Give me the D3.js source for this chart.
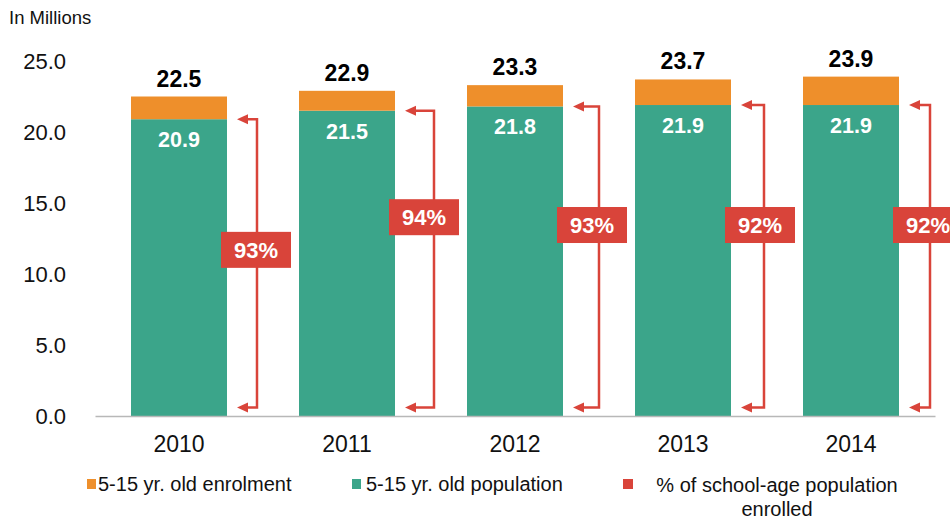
<!DOCTYPE html>
<html>
<head>
<meta charset="utf-8">
<script src="https://cdn.jsdelivr.net/npm/d3@7"></script>
<style>
  html, body { margin: 0; padding: 0; background: #fff; }
  svg { display: block; font-family: "Liberation Sans", Arial, sans-serif; }
</style>
</head>
<body>
<svg id="chart" width="950" height="519"></svg>
<script>
// ---- data ----
const years = ["2010", "2011", "2012", "2013", "2014"];
const greenValues = [20.9, 21.5, 21.8, 21.9, 21.9];   // lower (green) segment
const totalValues = [22.5, 22.9, 23.3, 23.7, 23.9];   // bar total (orange top)
const pctLabels = ["93%", "94%", "93%", "92%", "92%"];
const pctLabelAt = [11.7, 14.0, 13.45, 13.45, 13.45]; // value height of % box
const yTicks = [0, 5, 10, 15, 20, 25];
const legendLabels = ["5-15 yr. old enrolment", "5-15 yr. old population"];
const legendLabel3 = ["% of school-age population", "enrolled"];

// ---- layout / style ----
const ORANGE = "#EE8F2B", GREEN = "#3BA58A", RED = "#D9443A";
const arrowOffset = [30, 39, 36, 33, 31];
const FONT = "Liberation Sans, Arial, sans-serif";

const svg = d3.select("#chart");
const x = d3.scaleBand().domain(years).range([95, 935]).paddingInner(0.4286).paddingOuter(0.2143);
const y = d3.scaleLinear().domain([0, 25]).range([416, 61]);

// y axis
const yAxis = svg.append("g").attr("transform", "translate(72,0)")
  .call(d3.axisLeft(y).tickValues(yTicks).tickFormat(d3.format(".1f")).tickSize(0).tickPadding(6));
yAxis.select(".domain").remove();
yAxis.selectAll("text").attr("font-size", 22).attr("fill", "#111").style("font-family", FONT);

svg.append("text").attr("x", 9).attr("y", 24).attr("font-size", 18.5).attr("fill", "#111").text("In Millions");

// bars
const rows = years.map((yr, i) => ({ yr, g: greenValues[i], t: totalValues[i], pct: pctLabels[i], at: pctLabelAt[i], off: arrowOffset[i] }));

svg.selectAll("rect.green").data(rows).join("rect")
  .attr("x", d => x(d.yr)).attr("width", x.bandwidth())
  .attr("y", d => y(d.g)).attr("height", d => y(0) - y(d.g)).attr("fill", GREEN);
svg.selectAll("rect.orange").data(rows).join("rect")
  .attr("x", d => x(d.yr)).attr("width", x.bandwidth())
  .attr("y", d => y(d.t)).attr("height", d => y(d.g) - y(d.t)).attr("fill", ORANGE);

// x axis
const xAxis = svg.append("g").attr("transform", `translate(0,${y(0)})`)
  .call(d3.axisBottom(x).tickSize(0).tickSizeOuter(0).tickPadding(20));
xAxis.select(".domain").attr("stroke", "#b8b8b8").attr("stroke-width", 1.5);
xAxis.selectAll("text").attr("font-size", 23).attr("fill", "#111").style("font-family", FONT);

// value labels
svg.selectAll("text.total").data(rows).join("text")
  .attr("x", d => x(d.yr) + x.bandwidth() / 2).attr("y", d => y(d.t) - 10)
  .attr("text-anchor", "middle").attr("font-size", 23).attr("font-weight", "bold").attr("fill", "#000")
  .text(d => d.t.toFixed(1));
svg.selectAll("text.greenlbl").data(rows).join("text")
  .attr("x", d => x(d.yr) + x.bandwidth() / 2).attr("y", d => y(d.g) + 28)
  .attr("text-anchor", "middle").attr("font-size", 21.5).attr("font-weight", "bold").attr("fill", "#fff")
  .text(d => d.g.toFixed(1));

// arrows
const arrowG = svg.append("g");
rows.forEach(d => {
  const right = x(d.yr) + x.bandwidth();
  const lx = right + d.off;
  const tip = right + 10;
  const yt = y(d.g), yb = y(0.6);
  arrowG.append("path")
    .attr("d", `M${tip + 8},${yt}H${lx}V${yb}H${tip + 8}`)
    .attr("fill", "none").attr("stroke", RED).attr("stroke-width", 2.5);
  [yt, yb].forEach(yy => {
    arrowG.append("path")
      .attr("d", `M${tip},${yy}L${tip + 11},${yy - 5}L${tip + 11},${yy + 5}Z`)
      .attr("fill", RED);
  });
  const cx = right + 29, cy = y(d.at);
  arrowG.append("rect").attr("x", cx - 35).attr("y", cy - 18).attr("width", 70).attr("height", 36).attr("fill", RED);
  arrowG.append("text").attr("x", cx).attr("y", cy + 8).attr("text-anchor", "middle")
    .attr("font-size", 22).attr("font-weight", "bold").attr("fill", "#fff").text(d.pct);
});

// legend
const lg = svg.append("g");
const legendItems = [
  { color: ORANGE, sx: 87, tx: 98, label: legendLabels[0] },
  { color: GREEN, sx: 352, tx: 366, label: legendLabels[1] }
];
legendItems.forEach(it => {
  lg.append("rect").attr("x", it.sx).attr("y", 479).attr("width", 9).attr("height", 10).attr("fill", it.color);
  lg.append("text").attr("x", it.tx).attr("y", 491).attr("font-size", 20).attr("fill", "#111").text(it.label);
});
lg.append("rect").attr("x", 623).attr("y", 479).attr("width", 10).attr("height", 10).attr("fill", RED);
lg.append("text").attr("x", 777).attr("y", 492).attr("text-anchor", "middle").attr("font-size", 20).attr("fill", "#111").text(legendLabel3[0]);
lg.append("text").attr("x", 777).attr("y", 516).attr("text-anchor", "middle").attr("font-size", 20).attr("fill", "#111").text(legendLabel3[1]);
</script>
</body>
</html>
